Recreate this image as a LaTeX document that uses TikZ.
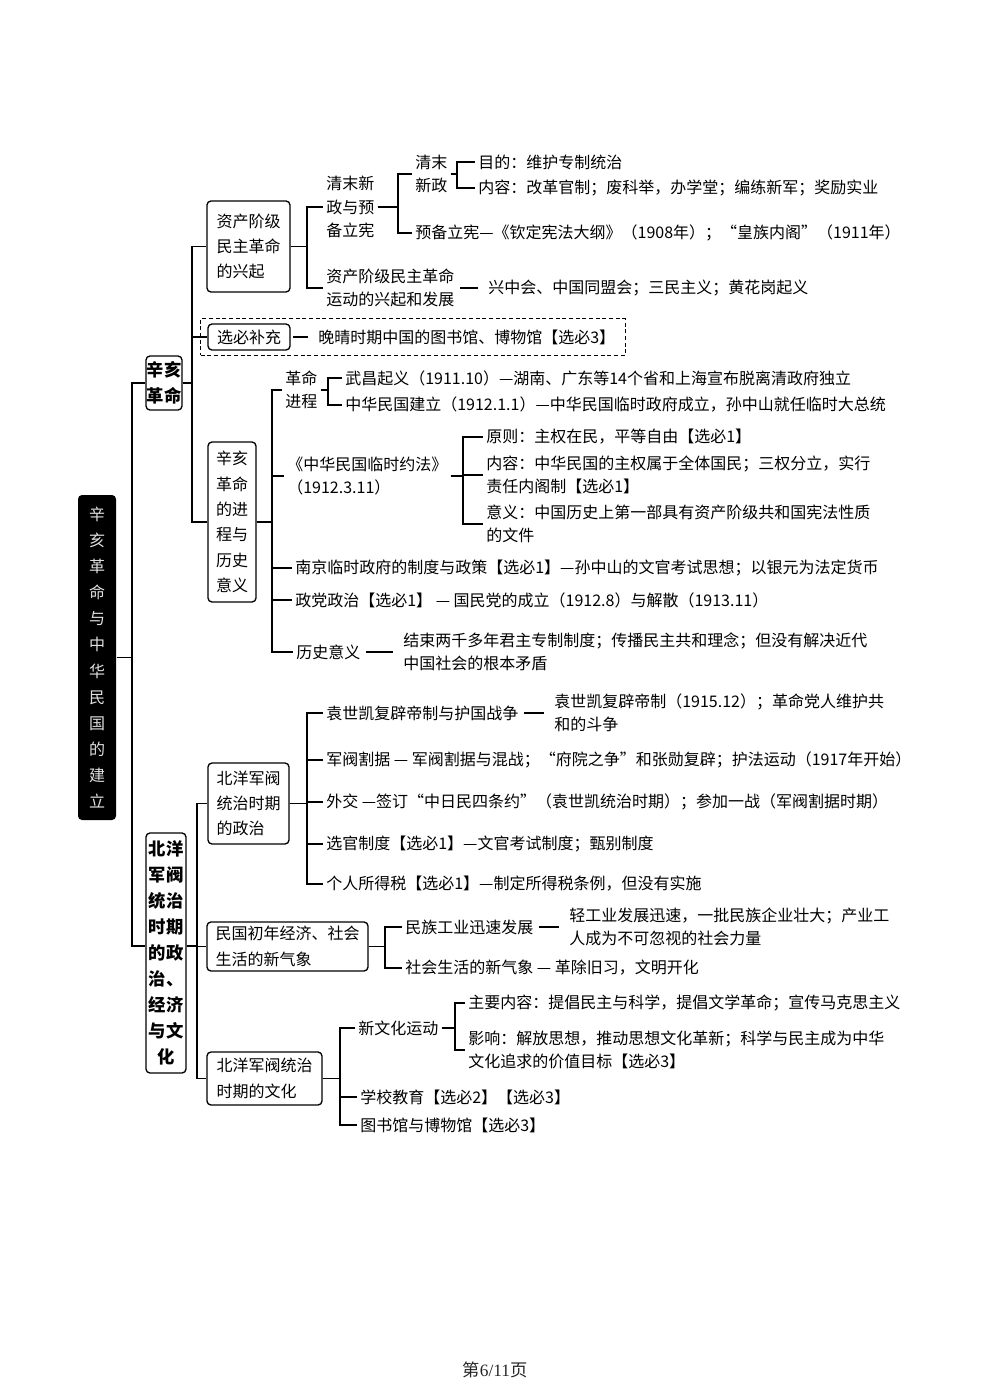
\documentclass[tikz,border=0pt]{standalone}
\usepackage{fontspec}
\setmainfont{Noto Sans CJK SC}
\newfontfamily\pagefont{Liberation Serif}
\usetikzlibrary{fit}

\begin{document}
\begin{tikzpicture}[x=0.75pt, y=-0.75pt, line width=1pt,
  leaf/.style={anchor=west, inner xsep=2pt, inner ysep=1pt, align=left,
               font=\fontsize{12}{17.5}\selectfont},
  sbox/.style={draw, rounded corners=3pt, inner sep=0pt, align=left,
               font=\fontsize{12}{19}\selectfont},
  tbox/.style={draw, rounded corners=3pt, inner sep=0pt, align=center,
               font=\fontsize{13}{19.5}\selectfont\bfseries},
  tie/.style={shorten <=2pt, shorten >=5pt}]
  \useasboundingbox (0,0) rectangle (990,1400);

  % title and first level
  \node[fill=black, rounded corners=3pt, inner sep=0pt,
        minimum width=28.5pt, minimum height=243.75pt, align=center,
        text=black!12, font=\fontsize{12}{19.6}\selectfont] (title) at (97,657.5)
    {辛\\亥\\革\\命\\与\\中\\华\\民\\国\\的\\建\\立};
  \node[tbox, minimum width=27pt, minimum height=40.5pt] (xh) at (164,383)
    {辛亥\\革命};
  \node[tbox, minimum width=30pt, minimum height=180pt] (by) at (166,953)
    {北洋\\军阀\\统治\\时期\\的政\\治、\\经济\\与文\\化};

  % second level
  \node[sbox, minimum width=62.25pt, minimum height=68.25pt] (zc) at (248.5,246.5)
    {资产阶级\\民主革命\\的兴起};
  \node[sbox, minimum width=61.5pt, minimum height=19.5pt] (xb) at (249,337)
    {选必补充};
  \node[sbox, minimum width=36pt, minimum height=120pt] (jc) at (232,522)
    {辛亥\\革命\\的进\\程与\\历史\\意义};
  \node[sbox, minimum width=60.75pt, minimum height=60.75pt] (zz) at (248.5,803.5)
    {北洋军阀\\统治时期\\的政治};
  \node[sbox, minimum width=120.75pt, minimum height=36.75pt] (mg) at (287.5,946.5)
    {民国初年经济、社会\\生活的新气象};
  \node[sbox, minimum width=86.25pt, minimum height=39.75pt] (wh) at (264.5,1078.5)
    {北洋军阀统治\\时期的文化};

  % leaves
  \node[leaf] (qm) at (323,207) {清末新\\政与预\\备立宪};
  \node[leaf] (yd) at (323,288) {资产阶级民主革命\\运动的兴起和发展};
  \node[leaf] (hz) at (485,288) {兴中会、中国同盟会；三民主义；黄花岗起义};
  \node[leaf] (qx) at (412,174) {清末\\新政};
  \node[leaf] (yb) at (412,233) {预备立宪—《钦定宪法大纲》（1908年）；“皇族内阁”（1911年）};
  \node[leaf] (md) at (475,162) {目的：维护专制统治};
  \node[leaf] (nr) at (475,188) {内容：改革官制；废科举，办学堂；编练新军；奖励实业};
  \node[leaf] (wq) at (315,337) {晚晴时期中国的图书馆、博物馆【选必3】};
  \node[draw, densely dashed, fit=(xb)(wq), inner xsep=5pt, inner ysep=3.5pt] (bc) {};

  \node[leaf] (gm) at (282,390) {革命\\进程};
  \node[leaf] (wc) at (342,378) {武昌起义（1911.10）—湖南、广东等14个省和上海宣布脱离清政府独立};
  \node[leaf] (zh) at (342,405) {中华民国建立（1912.1.1）—中华民国临时政府成立，孙中山就任临时大总统};
  \node[leaf] (yf) at (284,476) {《中华民国临时约法》\\（1912.3.11）};
  \node[leaf] (yz) at (483,437) {原则：主权在民，平等自由【选必1】};
  \node[leaf] (nq) at (483,475) {内容：中华民国的主权属于全体国民；三权分立，实行\\责任内阁制【选必1】};
  \node[leaf] (yy) at (483,524) {意义：中国历史上第一部具有资产阶级共和国宪法性质\\的文件};
  \node[leaf] (nj) at (292,568) {南京临时政府的制度与政策【选必1】—孙中山的文官考试思想；以银元为法定货币};
  \node[leaf] (zd) at (292,600) {政党政治【选必1】 — 国民党的成立（1912.8）与解散（1913.11）};
  \node[leaf] (ls) at (293,652) {历史意义};
  \node[leaf] (lc) at (400,652) {结束两千多年君主专制制度；传播民主共和理念；但没有解决近代\\中国社会的根本矛盾};

  \node[leaf] (ys) at (323,713) {袁世凯复辟帝制与护国战争};
  \node[leaf] (yc) at (551,713) {袁世凯复辟帝制（1915.12）；革命党人维护共\\和的斗争};
  \node[leaf] (jf) at (323,760) {军阀割据 — 军阀割据与混战；“府院之争”和张勋复辟；护法运动（1917年开始）};
  \node[leaf] (wj) at (323,802) {外交 —签订“中日民四条约”（袁世凯统治时期）；参加一战（军阀割据时期）};
  \node[leaf] (xg) at (323,844) {选官制度【选必1】—文官考试制度；甄别制度};
  \node[leaf] (gr) at (323,884) {个人所得税【选必1】—制定所得税条例，但没有实施};

  \node[leaf] (mz) at (402,927) {民族工业迅速发展};
  \node[leaf] (mt) at (566,927) {轻工业发展迅速，一批民族企业壮大；产业工\\人成为不可忽视的社会力量};
  \node[leaf] (sh) at (402,968) {社会生活的新气象 — 革除旧习，文明开化};

  \node[leaf] (xw) at (355,1028) {新文化运动};
  \node[leaf] (xx) at (357,1097) {学校教育【选必2】【选必3】};
  \node[leaf] (ts) at (357,1125) {图书馆与博物馆【选必3】};
  \node[leaf] (zy) at (465,1003) {主要内容：提倡民主与科学，提倡文学革命；宣传马克思主义};
  \node[leaf] (yx) at (465,1050) {影响：解放思想，推动思想文化革新；科学与民主成为中华\\文化追求的价值目标【选必3】};

  \node[text=black!85, font=\fontsize{13}{15}\selectfont] (pg) at (495,1370)
    {第{\pagefont 6/11}页};

  % bracket columns
  \coordinate (c0) at (132,0);   \coordinate (c1) at (192,0);
  \coordinate (c2) at (197,0);   \coordinate (c3) at (307,0);
  \coordinate (c4) at (398,0);   \coordinate (c5) at (457,0);
  \coordinate (c6) at (272,0);   \coordinate (c7) at (328,0);
  \coordinate (c8) at (463,0);   \coordinate (c9) at (307,0);
  \coordinate (c10) at (385,0);  \coordinate (c11) at (340,0);
  \coordinate (c12) at (455,0);  \coordinate (byy) at (166,946);

  \draw (title.east) -- (title.east -| c0);
  \draw (xh.west) -- (xh.west -| c0) -- (c0 |- byy) -- (by.west |- byy);
  \foreach \k in {zc,xb,jc}
    \draw (xh.east) -- (xh.east -| c1) |- (\k.west);
  \foreach \k in {zz,mg,wh}
    \draw (by.east |- byy) -- (byy -| c2) |- (\k.west);
  \foreach \k in {qm,yd}
    \draw (zc.east) -- (zc.east -| c3) |- (\k.west);
  \foreach \k in {qx,yb}
    \draw (qm.east) -- (qm.east -| c4) |- (\k.west);
  \foreach \k in {md,nr}
    \draw (qx.east) -- (qx.east -| c5) |- (\k.west);
  \foreach \k in {gm,yf,nj,zd,ls}
    \draw (jc.east) -- (jc.east -| c6) |- (\k.west);
  \foreach \k in {wc,zh}
    \draw (gm.east) -- (gm.east -| c7) |- (\k.west);
  \foreach \k in {yz,nq,yy}
    \draw (yf.east) -- (yf.east -| c8) |- (\k.west);
  \foreach \k in {ys,jf,wj,xg,gr}
    \draw (zz.east) -- (zz.east -| c9) |- (\k.west);
  \foreach \k in {mz,sh}
    \draw (mg.east) -- (mg.east -| c10) |- (\k.west);
  \foreach \k in {xw,xx,ts}
    \draw (wh.east) -- (wh.east -| c11) |- (\k.west);
  \foreach \k in {zy,yx}
    \draw (xw.east) -- (xw.east -| c12) |- (\k.west);

  \draw[tie] (yd) -- (hz);
  \draw[tie] (xb) -- (wq);
  \draw[tie] (ls) -- (lc);
  \draw[tie] (ys) -- (yc);
  \draw[tie] (mz) -- (mt);
\end{tikzpicture}
\end{document}
